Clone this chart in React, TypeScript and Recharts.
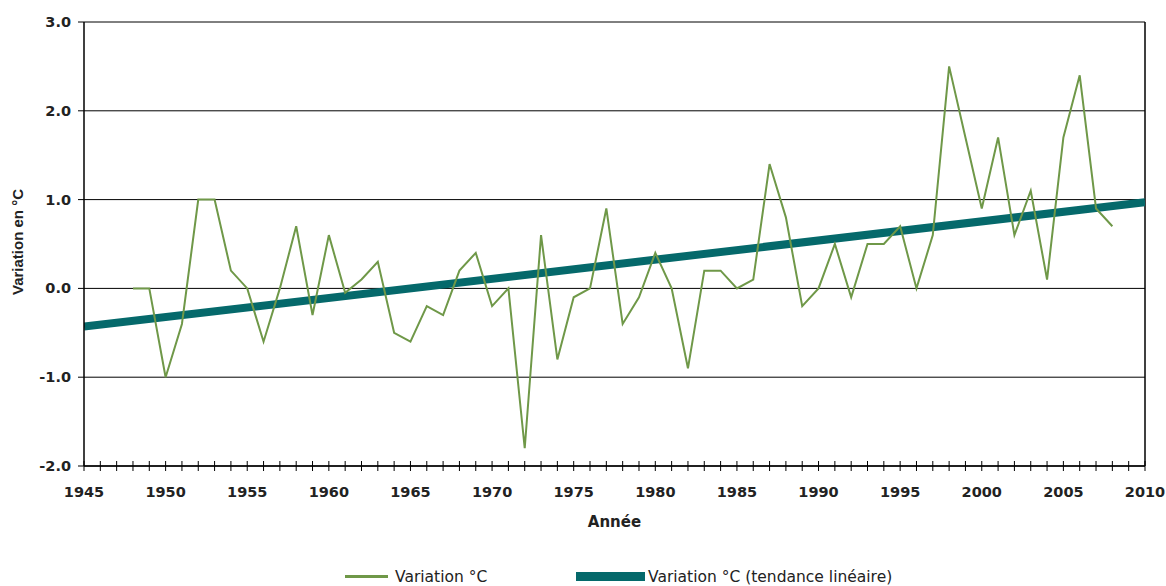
import React from 'react';
import { LineChart, Line, XAxis, YAxis, CartesianGrid, ReferenceLine, Legend, Label } from 'recharts';

const years: number[] = [
  1948, 1949, 1950, 1951, 1952, 1953, 1954, 1955, 1956, 1957,
  1958, 1959, 1960, 1961, 1962, 1963, 1964, 1965, 1966, 1967,
  1968, 1969, 1970, 1971, 1972, 1973, 1974, 1975, 1976, 1977,
  1978, 1979, 1980, 1981, 1982, 1983, 1984, 1985, 1986, 1987,
  1988, 1989, 1990, 1991, 1992, 1993, 1994, 1995, 1996, 1997,
  1998, 1999, 2000, 2001, 2002, 2003, 2004, 2005, 2006, 2007, 2008,
];

const variation: number[] = [
  0.0, 0.0, -1.0, -0.4, 1.0, 1.0, 0.2, 0.0, -0.6, 0.0,
  0.7, -0.3, 0.6, -0.05, 0.1, 0.3, -0.5, -0.6, -0.2, -0.3,
  0.2, 0.4, -0.2, 0.0, -1.8, 0.6, -0.8, -0.1, 0.0, 0.9,
  -0.4, -0.1, 0.4, 0.0, -0.9, 0.2, 0.2, 0.0, 0.1, 1.4,
  0.8, -0.2, 0.0, 0.5, -0.1, 0.5, 0.5, 0.7, 0.0, 0.6,
  2.5, 1.7, 0.9, 1.7, 0.6, 1.1, 0.1, 1.7, 2.4, 0.9, 0.7,
];

const trendYears: number[] = [1945, 2010];
const trendValues: number[] = [-0.43, 0.97];

const xTicks: number[] = Array.from({ length: 66 }, (_, i) => 1945 + i);
const yTicks: number[] = [-2, -1, 0, 1, 2, 3];

const seriesName = 'Variation °C';
const trendName = 'Variation °C (tendance linéaire)';
const xTitle = 'Année';
const yTitle = 'Variation en °C';

const variationData = years.map((y, i) => ({ year: y, v: variation[i] }));
const trendData = trendYears.map((y, i) => ({ year: y, t: trendValues[i] }));

const GREEN = '#6f9848';
const TEAL = '#05696b';
const TEXT = '#222';

if (typeof document !== 'undefined') {
  document.documentElement.style.overflow = 'hidden';
  document.body.style.overflow = 'hidden';
  document.body.style.margin = '0';
}

const XTick = (props: any) => {
  const { x, y, payload } = props;
  const yr = payload.value as number;
  return (
    <g>
      <line x1={x} x2={x} y1={y - 5} y2={y + 5} stroke="#000" strokeWidth={1} />
      {yr % 5 === 0 && (
        <text
          x={x}
          y={y + 31}
          textAnchor="middle"
          fill={TEXT}
          fontFamily="DejaVu Sans"
          fontWeight="bold"
          fontSize={14.5}
        >
          {yr}
        </text>
      )}
    </g>
  );
};

const YTick = (props: any) => {
  const { x, y, payload } = props;
  return (
    <text
      x={x}
      y={y + 5}
      textAnchor="end"
      fill={TEXT}
      fontFamily="DejaVu Sans"
      fontWeight="bold"
      fontSize={14.5}
    >
      {(payload.value as number).toFixed(1)}
    </text>
  );
};

const LegendContent = () => (
  <div style={{ position: 'relative', width: 1166, height: 50 }}>
    <div style={{ position: 'absolute', left: 345, top: 39, width: 43, height: 3, background: GREEN }} />
    <div
      style={{
        position: 'absolute', left: 395, top: 31, fontFamily: 'DejaVu Sans', fontSize: 15.5,
        color: TEXT, lineHeight: '20px', whiteSpace: 'nowrap',
      }}
    >
      {seriesName}
    </div>
    <div style={{ position: 'absolute', left: 576, top: 36, width: 69, height: 9, background: TEAL }} />
    <div
      style={{
        position: 'absolute', left: 648, top: 31, fontFamily: 'DejaVu Sans', fontSize: 15.5,
        color: TEXT, lineHeight: '20px', whiteSpace: 'nowrap',
      }}
    >
      {trendName}
    </div>
  </div>
);

export default function App() {
  return (
    <div style={{ width: 1166, height: 586 }}>
      <LineChart
        width={1166}
        height={586}
        margin={{ top: 22, right: 21, left: 24, bottom: 0 }}
        style={{ overflow: 'visible' }}
      >
        <CartesianGrid vertical={false} stroke="#000" strokeWidth={1} />
        <XAxis
          dataKey="year"
          type="number"
          domain={[1945, 2010]}
          ticks={xTicks}
          interval={0}
          allowDataOverflow
          height={70}
          tickSize={0}
          tickMargin={0}
          tickLine={false}
          axisLine={{ stroke: '#000', strokeWidth: 1.5 }}
          tick={<XTick />}
        >
          <Label
            content={(p: any) => {
              const vb = p.viewBox || {};
              return (
                <text
                  x={vb.x + vb.width / 2}
                  y={vb.y + 61}
                  textAnchor="middle"
                  fill={TEXT}
                  fontFamily="DejaVu Sans"
                  fontWeight="bold"
                  fontSize={15}
                >
                  {xTitle}
                </text>
              );
            }}
          />
        </XAxis>
        <YAxis
          type="number"
          domain={[-2, 3]}
          ticks={yTicks}
          width={60}
          tickSize={6}
          tickMargin={7}
          tickLine={{ stroke: '#000' }}
          axisLine={{ stroke: '#000', strokeWidth: 1.5 }}
          tick={<YTick />}
        >
          <Label
            content={(p: any) => {
              const vb = p.viewBox || {};
              const cx = vb.x - 7;
              const cy = vb.y + vb.height / 2 - 2;
              return (
                <text
                  x={cx}
                  y={cy}
                  transform={`rotate(-90 ${cx} ${cy})`}
                  textAnchor="middle"
                  dominantBaseline="central"
                  fill={TEXT}
                  fontFamily="Liberation Sans"
                  fontWeight="bold"
                  fontSize={15}
                >
                  {yTitle}
                </text>
              );
            }}
          />
        </YAxis>
        <ReferenceLine x={2010} stroke="#000" strokeWidth={1.5} />
        <Line
          data={trendData}
          dataKey="t"
          name={trendName}
          stroke={TEAL}
          strokeWidth={8}
          dot={false}
          activeDot={false}
          isAnimationActive={false}
          strokeLinecap="butt"
        />
        <Line
          data={variationData}
          dataKey="v"
          name={seriesName}
          stroke={GREEN}
          strokeWidth={2}
          dot={false}
          activeDot={false}
          isAnimationActive={false}
          strokeLinejoin="miter"
        />
        <Legend
          verticalAlign="bottom"
          align="left"
          height={50}
          wrapperStyle={{ left: 0, width: 1166, height: 50 }}
          content={<LegendContent />}
        />
      </LineChart>
    </div>
  );
}
